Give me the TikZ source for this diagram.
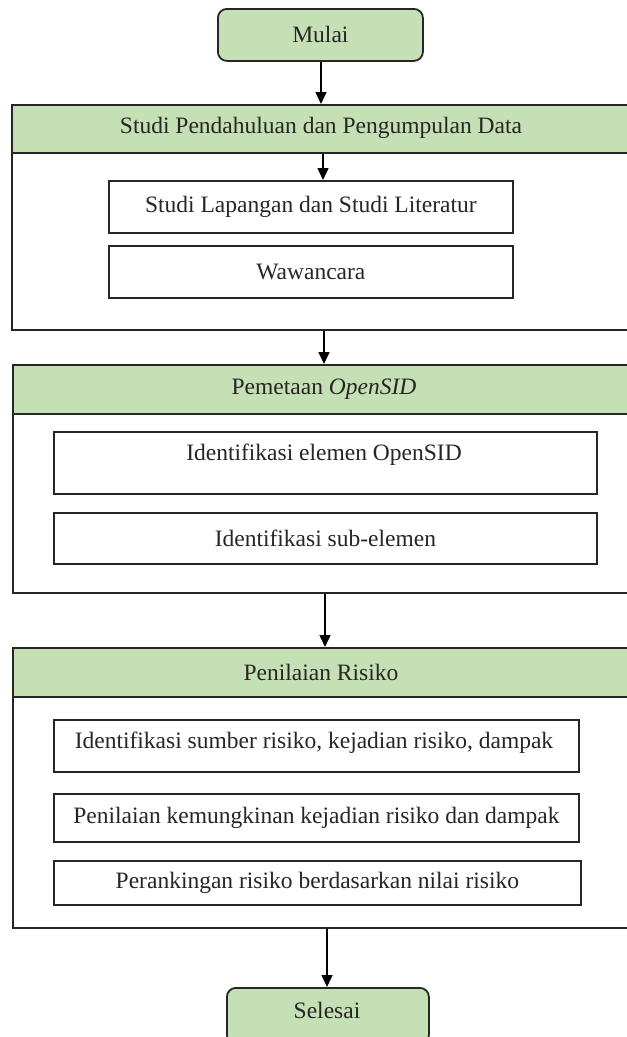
\documentclass[tikz,border=0pt]{standalone}
\usepackage{fontspec}
\setmainfont{Liberation Serif}
\usetikzlibrary{arrows.meta}
\definecolor{hdrgreen}{HTML}{C5E0B4}
\definecolor{edge}{HTML}{262626}
\begin{document}
\begin{tikzpicture}[x=1pt,y=1pt,
  every node/.style={font=\fontsize{23.5}{27}\selectfont, text=black!85},
  frame/.style={draw=edge, line width=1.8pt, inner sep=0pt, anchor=north west},
  hdr/.style={frame, fill=hdrgreen},
  term/.style={draw=edge, line width=1.8pt, fill=hdrgreen, rounded corners=9pt, inner sep=0pt, anchor=north west},
  itembox/.style={frame, fill=white},
  lbl/.style={inner sep=0pt},
  conn/.style={draw=black, line width=1.5pt, -{Triangle[length=12pt,width=11pt]}}
]
\useasboundingbox (0,0) rectangle (627,-1037);
\clip (0,0) rectangle (627,-1037);
\fill[white] (0,0) rectangle (627,-1037);

% Start
\node[term, minimum width=205, minimum height=52] (mulai) at (217,-8) {Mulai};

% Section 1
\node[frame, minimum width=640, minimum height=225] (s1) at (11,-104) {};
\node[hdr, minimum width=640, minimum height=48] (h1) at (11,-104) {};
\node[lbl] (t1) at (321,-128) {Studi Pendahuluan dan Pengumpulan Data};
\node[itembox, minimum width=404, minimum height=52] (b11) at (108,-180) {Studi Lapangan dan Studi Literatur};
\node[itembox, minimum width=404, minimum height=52] (b12) at (108,-245) {Wawancara};

% Section 2
\node[frame, minimum width=640, minimum height=228] (s2) at (12,-364) {};
\node[hdr, minimum width=640, minimum height=49] (h2) at (12,-364) {};
\node[lbl] (t2) at (324,-389) {Pemetaan \textit{OpenSID}};
\node[itembox, minimum width=543, minimum height=62] (b21) at (53,-431) {};
\node[lbl] (t21) at (324,-455) {Identifikasi elemen OpenSID};
\node[itembox, minimum width=543, minimum height=51] (b22) at (53,-512) {Identifikasi sub-elemen};

% Section 3
\node[frame, minimum width=640, minimum height=280] (s3) at (12,-647) {};
\node[hdr, minimum width=640, minimum height=49] (h3) at (12,-647) {};
\node[lbl] (t3) at (321,-672) {Penilaian Risiko};
\node[itembox, minimum width=525, minimum height=52] (b31) at (53,-719) {};
\node[lbl] (t31) at (314,-743) {Identifikasi sumber risiko, kejadian risiko, dampak};
\node[itembox, minimum width=525, minimum height=48] (b32) at (53,-793) {Penilaian kemungkinan kejadian risiko dan dampak};
\node[itembox, minimum width=527, minimum height=44] (b33) at (53,-860) {Perankingan risiko berdasarkan nilai risiko};

% End
\node[term, minimum width=202, minimum height=56] (selesai) at (226,-987) {};
\node[lbl] (tsel) at (327,-1010) {Selesai};

% Connectors
\coordinate (a0) at (321,-60);
\coordinate (a1) at (321,-104);
\draw[conn] (mulai.south -| a0) -- (h1.north -| a1);
\coordinate (c1) at (323,0);
\draw[conn] (h1.south -| c1) -- (b11.north -| c1);
\coordinate (c2) at (324,0);
\draw[conn] (s1.south -| c2) -- (s2.north -| c2);
\coordinate (c3) at (325,0);
\draw[conn] (s2.south -| c3) -- (s3.north -| c3);
\coordinate (c4) at (327,0);
\draw[conn] (s3.south -| c4) -- (selesai.north -| c4);
\end{tikzpicture}
\end{document}
